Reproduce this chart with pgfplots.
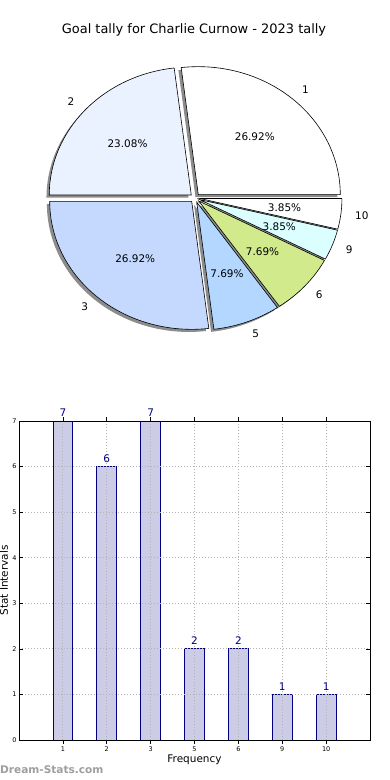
\documentclass[border=0pt]{standalone}
\usepackage{pgfplots}
\pgfplotsset{compat=1.18}
\usepackage{fontspec}
\setmainfont{DejaVu Sans}
\definecolor{pieTwo}{HTML}{EBF2FF}
\definecolor{pieThree}{HTML}{C5D9FF}
\definecolor{pieFive}{HTML}{B3D7FF}
\definecolor{pieSix}{HTML}{D0EA8C}
\definecolor{pieNine}{HTML}{DBFEFF}
\definecolor{barfill}{HTML}{CCCCE6}
\definecolor{navy}{HTML}{000080}
\def\piedata{7/1/white,6/2/pieTwo,7/3/pieThree,2/5/pieFive,2/6/pieSix,1/9/pieNine,1/10/white}
\def\rx{142}\def\ry{128}\def\cx{195}\def\cy{582}\def\ex{0.035}
\begin{document}
\begin{tikzpicture}[x=1bp,y=1bp]
\node[font=\fontsize{13}{15}\selectfont] at (194bp,750bp) {Goal tally for Charlie Curnow - 2023 tally};
\begin{axis}[at={(0bp,0bp)}, anchor=south west, width=390bp, height=780bp, scale only axis,
  xmin=0, xmax=390, ymin=0, ymax=780, hide axis, clip=false]
\addplot[draw=none, forget plot] coordinates {(0,0)};
\pgfplotsextra{
  \xdef\total{0}
  \foreach \v/\l/\c in \piedata {\pgfmathparse{\total+\v}\xdef\total{\pgfmathresult}}
  % shadows
  \xdef\cum{0}
  \foreach \v/\l/\c in \piedata {
    \pgfmathsetmacro\a{\cum*360/\total}
    \pgfmathsetmacro\b{(\cum+\v)*360/\total}
    \pgfmathsetmacro\m{(\a+\b)/2}
    \pgfmathsetmacro\ox{\cx+\ex*\rx*cos(\m)-2.8}
    \pgfmathsetmacro\oy{\cy+\ex*\ry*sin(\m)-2.6}
    \fill[black, opacity=0.45] (axis cs:\ox,\oy) -- ++(\a:\rx bp and \ry bp) arc[start angle=\a, end angle=\b, x radius=\rx bp, y radius=\ry bp] -- cycle;
    \pgfmathparse{\cum+\v}\xdef\cum{\pgfmathresult}
  }
  % wedges and labels
  \xdef\cum{0}
  \foreach \v/\l/\c in \piedata {
    \pgfmathsetmacro\a{\cum*360/\total}
    \pgfmathsetmacro\b{(\cum+\v)*360/\total}
    \pgfmathsetmacro\m{(\a+\b)/2}
    \pgfmathsetmacro\ox{\cx+\ex*\rx*cos(\m)}
    \pgfmathsetmacro\oy{\cy+\ex*\ry*sin(\m)}
    \fill[\c, draw=black, line width=0.6bp] (axis cs:\ox,\oy) -- ++(\a:\rx bp and \ry bp) arc[start angle=\a, end angle=\b, x radius=\rx bp, y radius=\ry bp] -- cycle;
    \pgfmathsetmacro\pct{100*\v/\total}
    \pgfmathsetmacro\px{\ox+0.6*\rx*cos(\m)}
    \pgfmathsetmacro\py{\oy+0.6*\ry*sin(\m)}
    \node[font=\fontsize{10.5}{12}\selectfont, inner sep=0pt] at (axis cs:\px,\py) {\pgfmathprintnumber[fixed,precision=2,fixed zerofill,assume math mode=true]{\pct}\%};
    \pgfmathsetmacro\lx{\ox+1.1*\rx*cos(\m)}
    \pgfmathsetmacro\ly{\oy+1.1*\ry*sin(\m)}
    \pgfmathsetmacro\isright{cos(\m)>0 ? 1 : 0}
    \ifdim\isright pt>0.5pt
      \node[font=\fontsize{10.5}{12}\selectfont, inner sep=0pt, anchor=west] at (axis cs:\lx,\ly) {\l};
    \else
      \node[font=\fontsize{10.5}{12}\selectfont, inner sep=0pt, anchor=east] at (axis cs:\lx,\ly) {\l};
    \fi
    \pgfmathparse{\cum+\v}\xdef\cum{\pgfmathresult}
  }
}
\end{axis}
\begin{scope}[shift={(19bp,40bp)}]
\begin{axis}[at={(0bp,0bp)}, anchor=south west, width=351bp, height=319bp, scale only axis,
  xmin=-1, xmax=7, ymin=0, ymax=7,
  xtick={0,...,6}, xticklabels={1,2,3,5,6,9,10},
  ytick={0,...,7},
  tick align=inside, major tick length=4bp,
  tick style={black, line width=0.5bp},
  axis line style={line width=0.8bp},
  grid=major, grid style={black!30, line width=0.8bp, dash pattern=on 1bp off 2bp},
  axis on top,
  /pgf/number format/assume math mode=true,
  ticklabel style={font=\fontsize{6.5}{7}\selectfont},
  xticklabel style={yshift=1bp},
  yticklabel style={xshift=1bp},
  xlabel={Frequency}, ylabel={Stat Intervals},
  label style={font=\fontsize{10.5}{12}\selectfont},
  xlabel style={at={(axis description cs:0.5,-0.0627)}, anchor=center},
  ylabel style={at={(axis description cs:-0.043,0.5)}, anchor=center},
  ybar, bar width=0.45, bar shift=0pt,
  nodes near coords,
  every node near coord/.append style={font=\fontsize{10.5}{12}\selectfont, text=navy, inner sep=0pt, yshift=4bp},
]
\addplot[fill=barfill, draw=navy, line width=0.8bp] coordinates {(0,7) (1,6) (2,7) (3,2) (4,2) (5,1) (6,1)};
\end{axis}
\end{scope}
\node[anchor=west, text=black!38, font=\bfseries\fontsize{10.6}{12}\selectfont, inner sep=0pt] at (0bp,10bp) {Dream-Stats.com};
\pgfresetboundingbox
\path[use as bounding box] (0bp,0bp) rectangle (390bp,780bp);
\end{tikzpicture}
\end{document}
